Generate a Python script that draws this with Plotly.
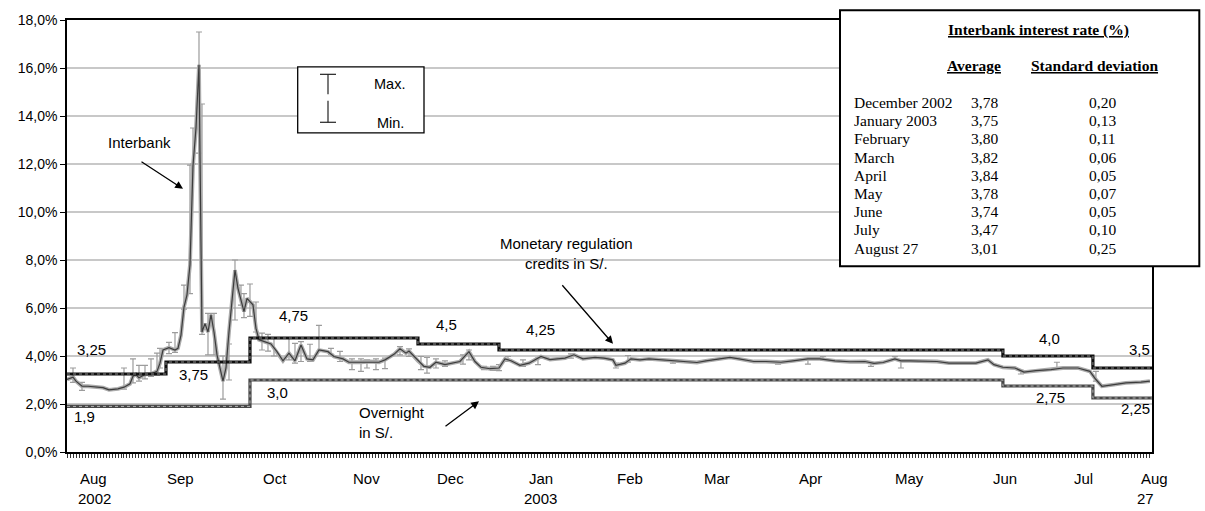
import plotly.graph_objects as go

# ---------------------------------------------------------------------------
# Data (rates in %, x = day count from the start of the axis, Aug 2002)
# ---------------------------------------------------------------------------
ib_day = [0, 2, 3, 5, 7, 10, 12, 14, 17, 19, 21, 22, 23, 24, 26, 28, 30, 31, 32, 34,
          36, 37, 38, 39, 40, 41, 42, 43, 44, 45, 46, 47, 48, 49, 50, 52, 53, 54, 56, 57,
          58, 59, 60, 62, 63, 64, 68, 70, 72, 74, 76, 78, 80, 82, 84, 87, 89, 92, 94, 98,
          101, 104, 106, 109, 111, 113, 114, 117, 119, 121, 123, 126, 128, 131, 133, 134, 136, 138, 141, 144,
          146, 148, 151, 154, 158, 161, 166, 169, 172, 176, 179, 182, 183, 186, 188, 191, 194, 198, 202, 206,
          210, 213, 217, 221, 224, 229, 233, 238, 242, 247, 251, 256, 261, 266, 269, 272, 276, 278, 281, 286,
          290, 294, 299, 303, 307, 309, 312, 316, 319, 323, 328, 332, 337, 341, 343, 345, 349, 353, 358, 361]
ib_rate = [3.02, 3.12, 2.95, 2.74, 2.74, 2.70, 2.68, 2.59, 2.63, 2.70, 2.84, 3.16, 3.23, 3.09, 3.23, 3.25, 3.36, 3.70, 4.25, 4.35,
           4.25, 4.32, 4.87, 6.04, 6.55, 7.80, 11.93, 13.50, 16.13, 5.00, 5.35, 5.00, 5.72, 5.00, 4.05, 2.95, 3.50, 5.00, 7.58, 6.82,
           6.27, 5.85, 6.40, 6.13, 5.15, 4.68, 4.50, 4.18, 3.80, 4.12, 3.80, 4.46, 3.88, 3.84, 4.25, 4.18, 3.98, 3.88, 3.74, 3.74,
           3.77, 3.74, 3.84, 4.07, 4.30, 4.12, 4.21, 3.80, 3.57, 3.53, 3.74, 3.64, 3.70, 3.77, 4.05, 4.18, 3.77, 3.53, 3.47, 3.50,
           3.88, 3.80, 3.61, 3.70, 3.98, 3.85, 3.91, 4.05, 3.88, 3.94, 3.91, 3.84, 3.61, 3.70, 3.88, 3.84, 3.88, 3.84, 3.80, 3.77,
           3.73, 3.80, 3.88, 3.94, 3.88, 3.77, 3.77, 3.74, 3.80, 3.88, 3.88, 3.80, 3.76, 3.77, 3.69, 3.73, 3.88, 3.80, 3.80, 3.77,
           3.77, 3.70, 3.70, 3.70, 3.84, 3.64, 3.53, 3.50, 3.33, 3.39, 3.43, 3.50, 3.50, 3.36, 3.02, 2.74, 2.81, 2.88, 2.91, 2.95]

# Daily maximum / minimum of the interbank rate
rng_day = [2, 5, 19, 22, 24, 26, 28, 30, 31, 34, 36, 39, 41, 42, 44, 45, 47, 49, 52, 54,
           56, 58, 59, 61, 63, 65, 67, 69, 74, 76, 78, 81, 84, 88, 91, 95, 98, 100, 103, 106,
           111, 114, 118, 120, 123, 126, 132, 134, 139, 142, 144, 147, 152, 157, 168, 183, 187, 202, 237, 247,
           252, 268, 276, 278, 318, 330, 343]
rng_max = [3.50, 2.90, 3.50, 3.88, 3.61, 3.61, 3.88, 4.12, 4.32, 4.57, 4.97, 6.95, 11.95, 13.50, 17.50, 14.50, 5.78, 5.78, 4.00, 4.50,
           8.00, 6.95, 6.60, 7.00, 6.25, 4.95, 4.90, 4.73, 4.73, 4.53, 4.60, 4.49, 5.28, 4.32, 4.19, 3.88, 3.88, 3.84, 3.88, 3.91,
           4.39, 4.30, 3.98, 3.94, 3.88, 3.80, 4.05, 4.25, 3.57, 3.57, 3.64, 3.98, 3.84, 3.91, 4.09, 3.70, 4.02, 3.84, 3.77, 3.88,
           3.98, 3.74, 3.98, 3.84, 3.40, 3.74, 3.36]
rng_min = [2.90, 2.57, 2.62, 2.88, 2.95, 3.05, 3.15, 3.20, 3.50, 4.10, 4.15, 5.95, 6.60, 12.00, 12.45, 4.90, 4.05, 4.05, 2.20, 3.00,
           5.50, 6.12, 5.60, 5.65, 5.00, 4.25, 4.20, 4.00, 3.84, 3.70, 3.77, 3.77, 4.19, 4.07, 3.77, 3.43, 3.36, 3.50, 3.43, 3.47,
           4.05, 3.98, 3.43, 3.29, 3.50, 3.57, 3.66, 3.84, 3.43, 3.40, 3.39, 3.77, 3.57, 3.64, 3.91, 3.50, 3.74, 3.70, 3.66, 3.66,
           3.84, 3.57, 3.84, 3.50, 3.25, 3.50, 2.95]

# Policy rates: day on which each level starts
reg_day = [0, 33, 61, 117, 144, 312, 342]
reg_rate = [3.25, 3.75, 4.75, 4.5, 4.25, 4.0, 3.5]
on_day = [0, 61, 312, 342]
on_rate = [1.9, 3.0, 2.75, 2.25]
last_day = 361.7

# Axis month labels
month_text = ["Aug", "Sep", "Oct", "Nov", "Dec", "Jan", "Feb", "Mar", "Apr", "May", "Jun", "Jul", "Aug"]
month_pos = [8.8, 37.7, 69.3, 99.9, 128.0, 157.9, 187.7, 216.6, 247.7, 280.8, 312.7, 338.8, 362.7]
year_text = ["2002", "2003", "27"]
year_pos = [9.3, 157.9, 359.6]

# Summary table
tbl_month = ["December 2002", "January 2003", "February", "March", "April", "May", "June", "July", "August 27"]
tbl_avg = [3.78, 3.75, 3.80, 3.82, 3.84, 3.78, 3.74, 3.47, 3.01]
tbl_sd = [0.20, 0.13, 0.11, 0.06, 0.05, 0.07, 0.05, 0.10, 0.25]

# ---------------------------------------------------------------------------
# Layout geometry
# ---------------------------------------------------------------------------
W, H = 1205, 511
L, R, T, B = 67, 53, 17, 59
PW, PH = W - L - R, H - T - B
ARIAL = "Arial, Liberation Sans, sans-serif"
TIMES = "Times New Roman, Liberation Serif, serif"


def fx(px):
    return (px - L) / PW


def fy(py):
    return (H - B - py) / PH


def day_to_paper(d):
    return d / last_day


def comma(v, nd=2):
    return f"{v:.{nd}f}".replace(".", ",")


def rate_label(v):
    s = f"{v:.2f}".rstrip("0")
    if s.endswith("."):
        s += "0"
    return s.replace(".", ",")


def step_xy(days, rates):
    return days + [last_day], rates + [rates[-1]]


fig = go.Figure()

# Max / min range bars
fig.add_trace(go.Scatter(
    x=rng_day, y=rng_min, mode="markers",
    marker=dict(size=2, color="rgba(0,0,0,0)"),
    error_y=dict(type="data", symmetric=False,
                 array=[mx - mn for mx, mn in zip(rng_max, rng_min)],
                 arrayminus=[0] * len(rng_min),
                 color="#9c9c9c", thickness=1.2, width=3),
    hoverinfo="skip"))

# Interbank rate
fig.add_trace(go.Scatter(x=ib_day, y=ib_rate, mode="lines",
                         line=dict(color="#ababab", width=3.8), hoverinfo="skip"))
fig.add_trace(go.Scatter(x=ib_day, y=ib_rate, mode="lines",
                         line=dict(color="#3c3c3c", width=1.2)))

# Overnight deposit rate
ox, oy = step_xy(on_day, on_rate)
fig.add_trace(go.Scatter(x=ox, y=oy, mode="lines", line_shape="hv",
                         line=dict(color="#484848", width=3.2)))
fig.add_trace(go.Scatter(x=ox, y=oy, mode="lines", line_shape="hv",
                         line=dict(color="#b5b5b5", width=1, dash="dot")))

# Monetary regulation credit rate
rx, ry = step_xy(reg_day, reg_rate)
fig.add_trace(go.Scatter(x=rx, y=ry, mode="lines", line_shape="hv",
                         line=dict(color="#101010", width=3.2)))
fig.add_trace(go.Scatter(x=rx, y=ry, mode="lines", line_shape="hv",
                         line=dict(color="#8a8a8a", width=1, dash="dot")))

ann = []
shapes = []


def text(px, py, s, size=15, font=ARIAL, xanchor="center", align="center"):
    ann.append(dict(x=fx(px), y=fy(py), xref="paper", yref="paper", text=s,
                    showarrow=False, xanchor=xanchor, yanchor="middle", align=align,
                    font=dict(family=font, size=size, color="black")))


def arrow(tx, ty, hx, hy):
    ann.append(dict(x=fx(hx), y=fy(hy), xref="paper", yref="paper", text="",
                    showarrow=True, ax=tx - hx, ay=ty - hy, arrowhead=2,
                    arrowsize=1.2, arrowwidth=1.3, arrowcolor="black"))


# Month and year labels under the axis (paper x so the last one may sit past the axis end)
for m, d in zip(month_text, month_pos):
    ann.append(dict(x=day_to_paper(d), y=fy(479), xref="paper", yref="paper", text=m,
                    showarrow=False, xanchor="center", yanchor="middle",
                    font=dict(family=ARIAL, size=15, color="black")))
for t, d in zip(year_text, year_pos):
    ann.append(dict(x=day_to_paper(d), y=fy(498.5), xref="paper", yref="paper", text=t,
                    showarrow=False, xanchor="center", yanchor="middle",
                    font=dict(family=ARIAL, size=15, color="black")))

# Policy rate labels
reg_lbl_pos = [(91.7, 348.3), (193.3, 374), (293.3, 315), (446.7, 324), (540, 328.3),
               (1049.7, 337.3), (1139.7, 348.3)]
on_lbl_pos = [(84, 416.7), (277.5, 391.7), (1050, 396.7), (1135, 408.3)]
for v, (px, py) in zip(reg_rate, reg_lbl_pos):
    text(px, py, rate_label(v))
for v, (px, py) in zip(on_rate, on_lbl_pos):
    text(px, py, rate_label(v))

# Series captions with arrows
text(139, 140, "Interbank")
arrow(140, 159, 183, 187)
text(566, 252, "Monetary regulation<br>credits in S/.")
arrow(561, 283, 613, 343)
text(357, 422.7, "Overnight<br>in S/.", xanchor="left", align="left")
arrow(444, 427, 479, 401)

# Max / Min key
shapes.append(dict(type="rect", xref="paper", yref="paper", x0=fx(297.7), x1=fx(424),
                   y0=fy(130.7), y1=fy(64.3), line=dict(color="black", width=1.3),
                   fillcolor="white", layer="above"))
for x0, y0, x1, y1 in [(320, 71.7, 336, 71.7), (328, 71.7, 328, 91.7),
                       (328, 98.3, 328, 120), (320, 120, 336, 120)]:
    shapes.append(dict(type="line", xref="paper", yref="paper", x0=fx(x0), y0=fy(y0),
                       x1=fx(x1), y1=fy(y1), line=dict(color="#222222", width=1.2),
                       layer="above"))
text(371.7, 81.7, "Max.", size=14.5, xanchor="left")
text(375, 121, "Min.", size=14.5, xanchor="left")

# Summary table box
shapes.append(dict(type="rect", xref="paper", yref="paper", x0=fx(840), x1=fx(1199.3),
                   y0=fy(265), y1=fy(7.3), line=dict(color="black", width=2),
                   fillcolor="white", layer="above"))
text(1038.3, 26.7, "<b><u>Interbank interest rate (%)</u></b>", size=15.5, font=TIMES)
text(974, 63.3, "<b><u>Average</u></b>", size=15.5, font=TIMES)
text(1094.7, 63.3, "<b><u>Standard deviation</u></b>", size=15.5, font=TIMES)
for i, (m, a, s) in enumerate(zip(tbl_month, tbl_avg, tbl_sd)):
    yy = 100 + i * 18.33
    text(851.7, yy, m, size=15.5, font=TIMES, xanchor="left")
    text(969, yy, comma(a), size=15.5, font=TIMES, xanchor="left")
    text(1102, yy, comma(s), size=15.5, font=TIMES)

fig.update_layout(
    width=W, height=H,
    margin=dict(l=L, r=R, t=T, b=B, pad=0),
    paper_bgcolor="white", plot_bgcolor="white",
    showlegend=False,
    separators=",.",
    annotations=ann,
    shapes=shapes,
    xaxis=dict(range=[0, last_day], tickmode="linear", tick0=0, dtick=1,
               ticks="outside", ticklen=4, tickwidth=1, tickcolor="#333333",
               showticklabels=False, showgrid=False, zeroline=False,
               showline=True, linecolor="black", linewidth=1.5, mirror=True),
    yaxis=dict(range=[0, 18], tickmode="linear", tick0=0, dtick=2,
               tickformat=".1f", ticksuffix="%",
               tickfont=dict(family=ARIAL, size=14, color="black"),
               ticks="outside", ticklen=5, tickcolor="black",
               showgrid=True, gridcolor="#c8c8c8", gridwidth=1.5, zeroline=False,
               showline=True, linecolor="black", linewidth=1.5, mirror=True),
)

fig.write_html("out.html")
